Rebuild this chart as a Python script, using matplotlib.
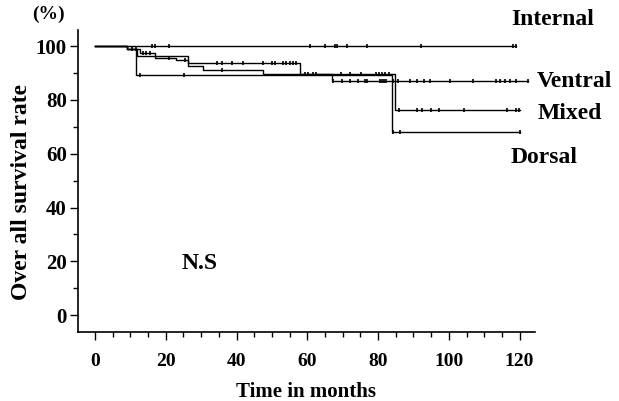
import numpy as np
import matplotlib
matplotlib.use("Agg")
import matplotlib.pyplot as plt
from matplotlib.ticker import MultipleLocator

plt.rcParams["font.family"] = ["Liberation Serif", "DejaVu Serif"]
plt.rcParams["font.weight"] = "bold"

# ------------------------
# Kaplan-Meier steps: (time of step, survival after step)
# ------------------------
internal_t = [0]
internal_s = [100]
internal_end = 119
internal_cens = [16, 17, 21, 60.7, 65, 67.8, 68.4, 71.2, 76.8, 92, 118, 119]

ventral_t = [0, 9, 12.7, 17, 23, 26.4, 33, 58, 67]
ventral_s = [100, 99, 97.3, 95.7, 95, 93.8, 93.6, 89.5, 87]
ventral_end = 122.4
ventral_cens = [13.6, 14.5, 15.5, 20.8, 25.5, 34.6, 36, 38.8, 41.9, 47.6, 50, 51,
                53, 54, 55, 55.9, 56.8, 59.3, 60.2, 61.6, 62.6, 67.3, 69.7, 72, 74.4,
                76.3, 76.9, 80.5, 81, 81.6, 82.2, 84.3, 85.7, 89, 90.9, 93, 94.8,
                100.3, 106.9, 113.3, 114.4, 115.8, 117.4, 119.1, 122.4]

mixed_t = [0, 9, 12, 26.4, 30.6, 47.4, 84.7]
mixed_s = [100, 98.8, 96.5, 92.6, 91.1, 89.6, 76.3]
mixed_end = 120
mixed_cens = [10.5, 11.5, 36, 69.4, 72.2, 75.1, 79.3, 80.2, 81.2, 82.1, 83.1,
              86, 90.9, 92.3, 95.1, 97.3, 104.3, 116.3, 119.1, 119.9]

dorsal_t = [0, 9, 11.6, 84]
dorsal_s = [100, 98.8, 89.2, 68]
dorsal_end = 120
dorsal_cens = [12.8, 25.2, 84.3, 86.2, 120]

curves = {
    "Internal": (internal_t, internal_s, internal_end, internal_cens),
    "Ventral": (ventral_t, ventral_s, ventral_end, ventral_cens),
    "Mixed": (mixed_t, mixed_s, mixed_end, mixed_cens),
    "Dorsal": (dorsal_t, dorsal_s, dorsal_end, dorsal_cens),
}

# label positions (months, %)
label_pos = {
    "Internal": (117.5, 110),
    "Ventral": (124.9, 87),
    "Mixed": (125.1, 75),
    "Dorsal": (117.5, 58.7),
}

fig = plt.figure(figsize=(6.19, 4.01), dpi=100)
ax = fig.add_axes([0.126, 0.172, 0.738, 0.753])

for name, (t, s, end, cens) in curves.items():
    xs = list(t) + [end]
    ys = list(s) + [s[-1]]
    ax.step(xs, ys, where="post", color="black", lw=1.0)
    idx = np.searchsorted(t, cens, side="right") - 1
    cy = np.array(s)[idx]
    ax.plot(cens, cy, ls="none", marker="|", ms=3, mew=1.2, color="black")
    lx, ly = label_pos[name]
    ax.text(lx, ly, name, fontsize=17, fontweight="bold", va="center",
            ha="left", clip_on=False)

ax.text(29.5, 19.3, "N.S", fontsize=17, fontweight="bold", ha="center", va="center")

ax.set_xlim(-4.8, 124.3)
ax.set_ylim(-6.3, 106)
ax.spines["top"].set_visible(False)
ax.spines["right"].set_visible(False)
ax.spines["left"].set_linewidth(1.2)
ax.spines["bottom"].set_linewidth(1.2)

ax.set_xticks([0, 20, 40, 60, 80, 100, 120])
ax.set_yticks([0, 20, 40, 60, 80, 100])
ax.xaxis.set_minor_locator(MultipleLocator(5))
ax.yaxis.set_minor_locator(MultipleLocator(10))
ax.tick_params(which="major", length=6, width=1.0)
ax.tick_params(axis="x", which="major", pad=9, labelsize=14)
ax.tick_params(axis="y", which="major", pad=2, labelsize=15)
ax.tick_params(which="minor", length=3.5, width=1.0)
for lab in ax.get_xticklabels() + ax.get_yticklabels():
    lab.set_fontweight("bold")

ax.set_xlabel("Time in months", fontsize=15, fontweight="bold", labelpad=9)
ax.set_ylabel("Over all survival rate", fontsize=17, fontweight="bold")
ax.yaxis.set_label_coords(-0.1, 0.464)
fig.text(0.078, 0.963, "(%)", fontsize=14, fontweight="bold", ha="center", va="center")

fig.savefig("out.png", dpi=100)
